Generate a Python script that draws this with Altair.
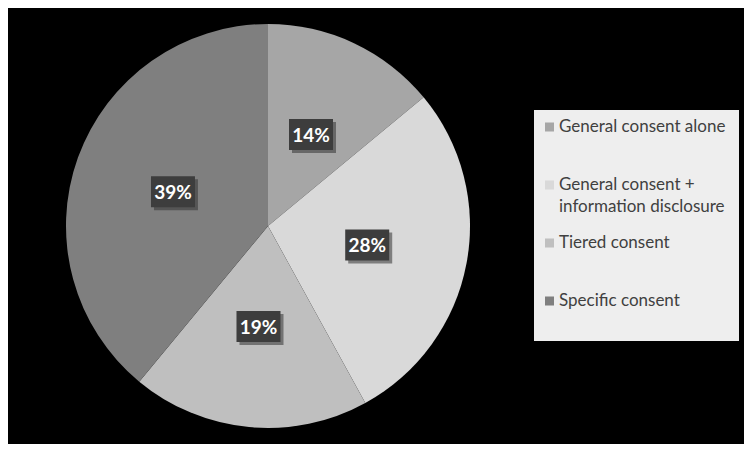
import altair as alt
import pandas as pd

# ---- data ----
categories = [
    "General consent alone",
    "General consent + information disclosure",
    "Tiered consent",
    "Specific consent",
]
legend_text = [
    "General consent alone",
    "General consent +\ninformation disclosure",
    "Tiered consent",
    "Specific consent",
]
shares = [14, 28, 19, 39]
colors = ["#a6a6a6", "#d9d9d9", "#bfbfbf", "#7f7f7f"]

df = pd.DataFrame({
    "category": categories,
    "legend": legend_text,
    "share": shares,
    "idx": list(range(len(categories))),
})

# ---- layout constants (chart pixel space) ----
W, H = 736, 436
CX, CY, R = 260, 218, 202
R_LAB = 101
BOX_W, BOX_H = 44, 31
LEG_X0, LEG_Y0, LEG_X1, LEG_Y1 = 526, 102, 731, 333
LEG_FIRST, LEG_STEP = 119, 58
FONT = "Lato"

color_scale = alt.Scale(domain=categories, range=colors)
base = alt.Chart(df)

pie = base.mark_arc(radius=R, strokeWidth=0).encode(
    theta=alt.Theta("share:Q", stack=True),
    order=alt.Order("idx:Q"),
    color=alt.Color("category:N", scale=color_scale, legend=None),
    x=alt.value(CX),
    y=alt.value(CY),
)

lab = base.transform_window(
    cum="sum(share)", sort=[alt.SortField("idx")], frame=[None, 0]
).transform_joinaggregate(
    total="sum(share)"
).transform_calculate(
    mid="(datum.cum - datum.share/2) / datum.total * 2 * PI",
    pct="format(datum.share, 'd') + '%'",
).transform_calculate(
    lx=f"{CX} + {R_LAB} * sin(datum.mid)",
    ly=f"{CY} - {R_LAB} * cos(datum.mid)",
).transform_calculate(
    bx0=f"datum.lx - {BOX_W/2}", bx1=f"datum.lx + {BOX_W/2}",
    by0=f"datum.ly - {BOX_H/2}", by1=f"datum.ly + {BOX_H/2}",
    sx0=f"datum.lx - {BOX_W/2} + 3", sx1=f"datum.lx + {BOX_W/2} + 3",
    sy0=f"datum.ly - {BOX_H/2} + 3", sy1=f"datum.ly + {BOX_H/2} + 3",
)

shadow = lab.mark_rect(color="#333333", opacity=0.55).encode(
    x=alt.X("sx0:Q", scale=None, axis=None), x2="sx1:Q",
    y=alt.Y("sy0:Q", scale=None, axis=None), y2="sy1:Q",
)
box = lab.mark_rect(color="#3d3d3d").encode(
    x=alt.X("bx0:Q", scale=None, axis=None), x2="bx1:Q",
    y=alt.Y("by0:Q", scale=None, axis=None), y2="by1:Q",
)
txt = lab.mark_text(
    font=FONT, fontSize=19, fontWeight="bold", color="white",
    align="center", baseline="middle", dy=1,
).encode(
    x=alt.X("lx:Q", scale=None, axis=None),
    y=alt.Y("ly:Q", scale=None, axis=None),
    text="pct:N",
)

# ---- manual legend ----
leg_bg = alt.Chart(pd.DataFrame({"k": [0]})).mark_rect(color="#eeeeee").encode(
    x=alt.value(LEG_X0), x2=alt.value(LEG_X1),
    y=alt.value(LEG_Y0), y2=alt.value(LEG_Y1),
)
leg = base.transform_calculate(
    ly=f"{LEG_FIRST} + {LEG_STEP} * datum.idx",
    ty=f"{LEG_FIRST} + {LEG_STEP} * datum.idx - 8",
)
leg_sym = leg.mark_square(size=81, opacity=1).encode(
    x=alt.value(541.5),
    y=alt.Y("ly:Q", scale=None, axis=None),
    color=alt.Color("category:N", scale=color_scale, legend=None),
)
leg_txt = leg.mark_text(
    font=FONT, fontSize=17, color="#404040", align="left", baseline="top",
    lineBreak="\n", lineHeight=22,
).encode(
    x=alt.value(551),
    y=alt.Y("ty:Q", scale=None, axis=None),
    text="legend:N",
)

chart = alt.layer(pie, shadow, box, txt, leg_bg, leg_sym, leg_txt).properties(
    width=W, height=H,
    autosize=alt.AutoSizeParams(type="none"),
    padding=0,
    background="black",
).configure_view(stroke=None)

chart.save("out.html", embed_options={"renderer": "svg", "actions": False})
